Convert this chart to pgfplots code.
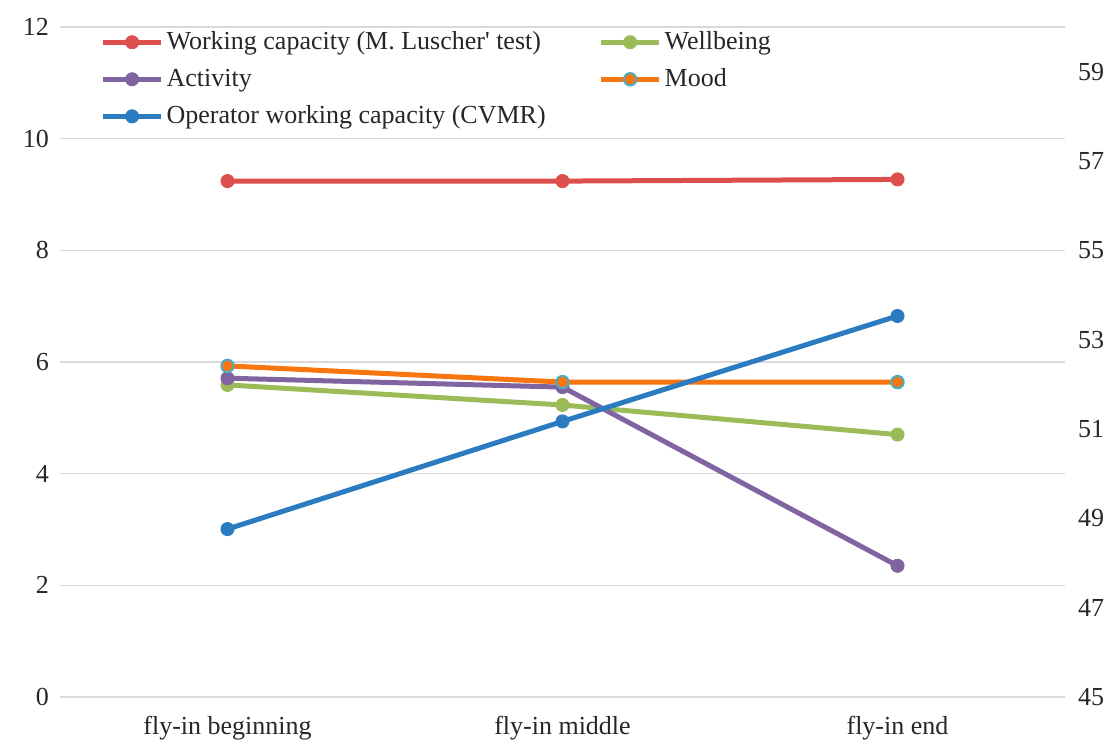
\documentclass[border=0pt]{standalone}
\usepackage{pgfplots}
\pgfplotsset{compat=1.18}
\usepackage{fontspec}
\setmainfont{Liberation Serif}
\definecolor{cRed}{HTML}{DD4F4C}
\definecolor{cGreen}{HTML}{9BBB59}
\definecolor{cPurple}{HTML}{8064A2}
\definecolor{cOrange}{HTML}{F7760F}
\definecolor{cTeal}{HTML}{4BACC6}
\definecolor{cBlue}{HTML}{2A7BBF}
\definecolor{gridgray}{HTML}{D9D9D9}
\definecolor{txt}{HTML}{262626}
\newcommand{\ff}{\fontsize{13}{15}\selectfont}
\pgfplotsset{
  base/.style={
    scale only axis, width=502.5pt, height=335pt,
    xmin=-0.5, xmax=2.5,
    axis line style={draw=none},
    tick style={draw=none},
    major tick length=0pt,
    tick label style={font=\ff, text=txt},
    /pgf/number format/assume math mode=true,
    clip=false,
  },
  ser/.style={line width=2.5pt, mark=*, mark size=3.3pt, mark options={solid, line width=0.4pt}},
  legend image code/.code={%
    \draw[mark repeat=2,mark phase=2,#1] plot coordinates {(0pt,0pt)(14.5pt,0pt)(29pt,0pt)};},
}
\begin{document}
\begin{tikzpicture}
\begin{axis}[base, name=ax,
  ymin=0, ymax=12, ytick={0,2,...,12},
  ymajorgrids, grid style={color=gridgray, line width=0.8pt},
  xtick={0,1,2},
  xticklabels={fly-in beginning, fly-in middle, fly-in end},
  xticklabel style={yshift=-6pt},
  yticklabel style={xshift=-2pt},
  axis y line*=left, axis x line*=bottom,
]
\addplot[ser, color=cRed] coordinates {(0,9.24) (1,9.24) (2,9.27)};
\addplot[ser, color=cGreen] coordinates {(0,5.59) (1,5.23) (2,4.70)};
\addplot[ser, color=cPurple] coordinates {(0,5.71) (1,5.55) (2,2.35)};
\addplot[ser, color=cOrange, mark options={fill=cOrange, draw=cTeal, line width=1pt}, mark size=3.1pt] coordinates {(0,5.93) (1,5.64) (2,5.64)};
\end{axis}
\begin{axis}[base,
  ymin=45, ymax=60, ytick={45,47,...,59},
  axis y line*=right, axis x line=none,
  yticklabel style={xshift=3pt},
  legend columns=2,
  legend cell align=left,
  legend style={draw=none, fill=none, inner sep=0pt, font=\ff, text=txt,
    at={(0.04,0.998)}, anchor=north west,
    row sep=5pt,
    nodes={inner sep=1.5pt},
    /tikz/column 2/.style={column sep=25pt}},
]
\addlegendimage{ser, color=cRed}
\addlegendentry{Working capacity (M. Luscher\textquotesingle\ test)}
\addlegendimage{ser, color=cGreen}
\addlegendentry{Wellbeing}
\addlegendimage{ser, color=cPurple}
\addlegendentry{Activity}
\addlegendimage{ser, color=cOrange, mark options={fill=cOrange, draw=cTeal, line width=1pt}, mark size=3.1pt}
\addlegendentry{Mood}
\addplot[ser, color=cBlue] coordinates {(0,48.76) (1,51.17) (2,53.53)};
\addlegendentry{Operator working capacity (CVMR)}
\end{axis}
\path (ax.south west) ++(-30pt,-24pt);
\path (ax.north east) ++(27.5pt,13.5pt);
\end{tikzpicture}
\end{document}
